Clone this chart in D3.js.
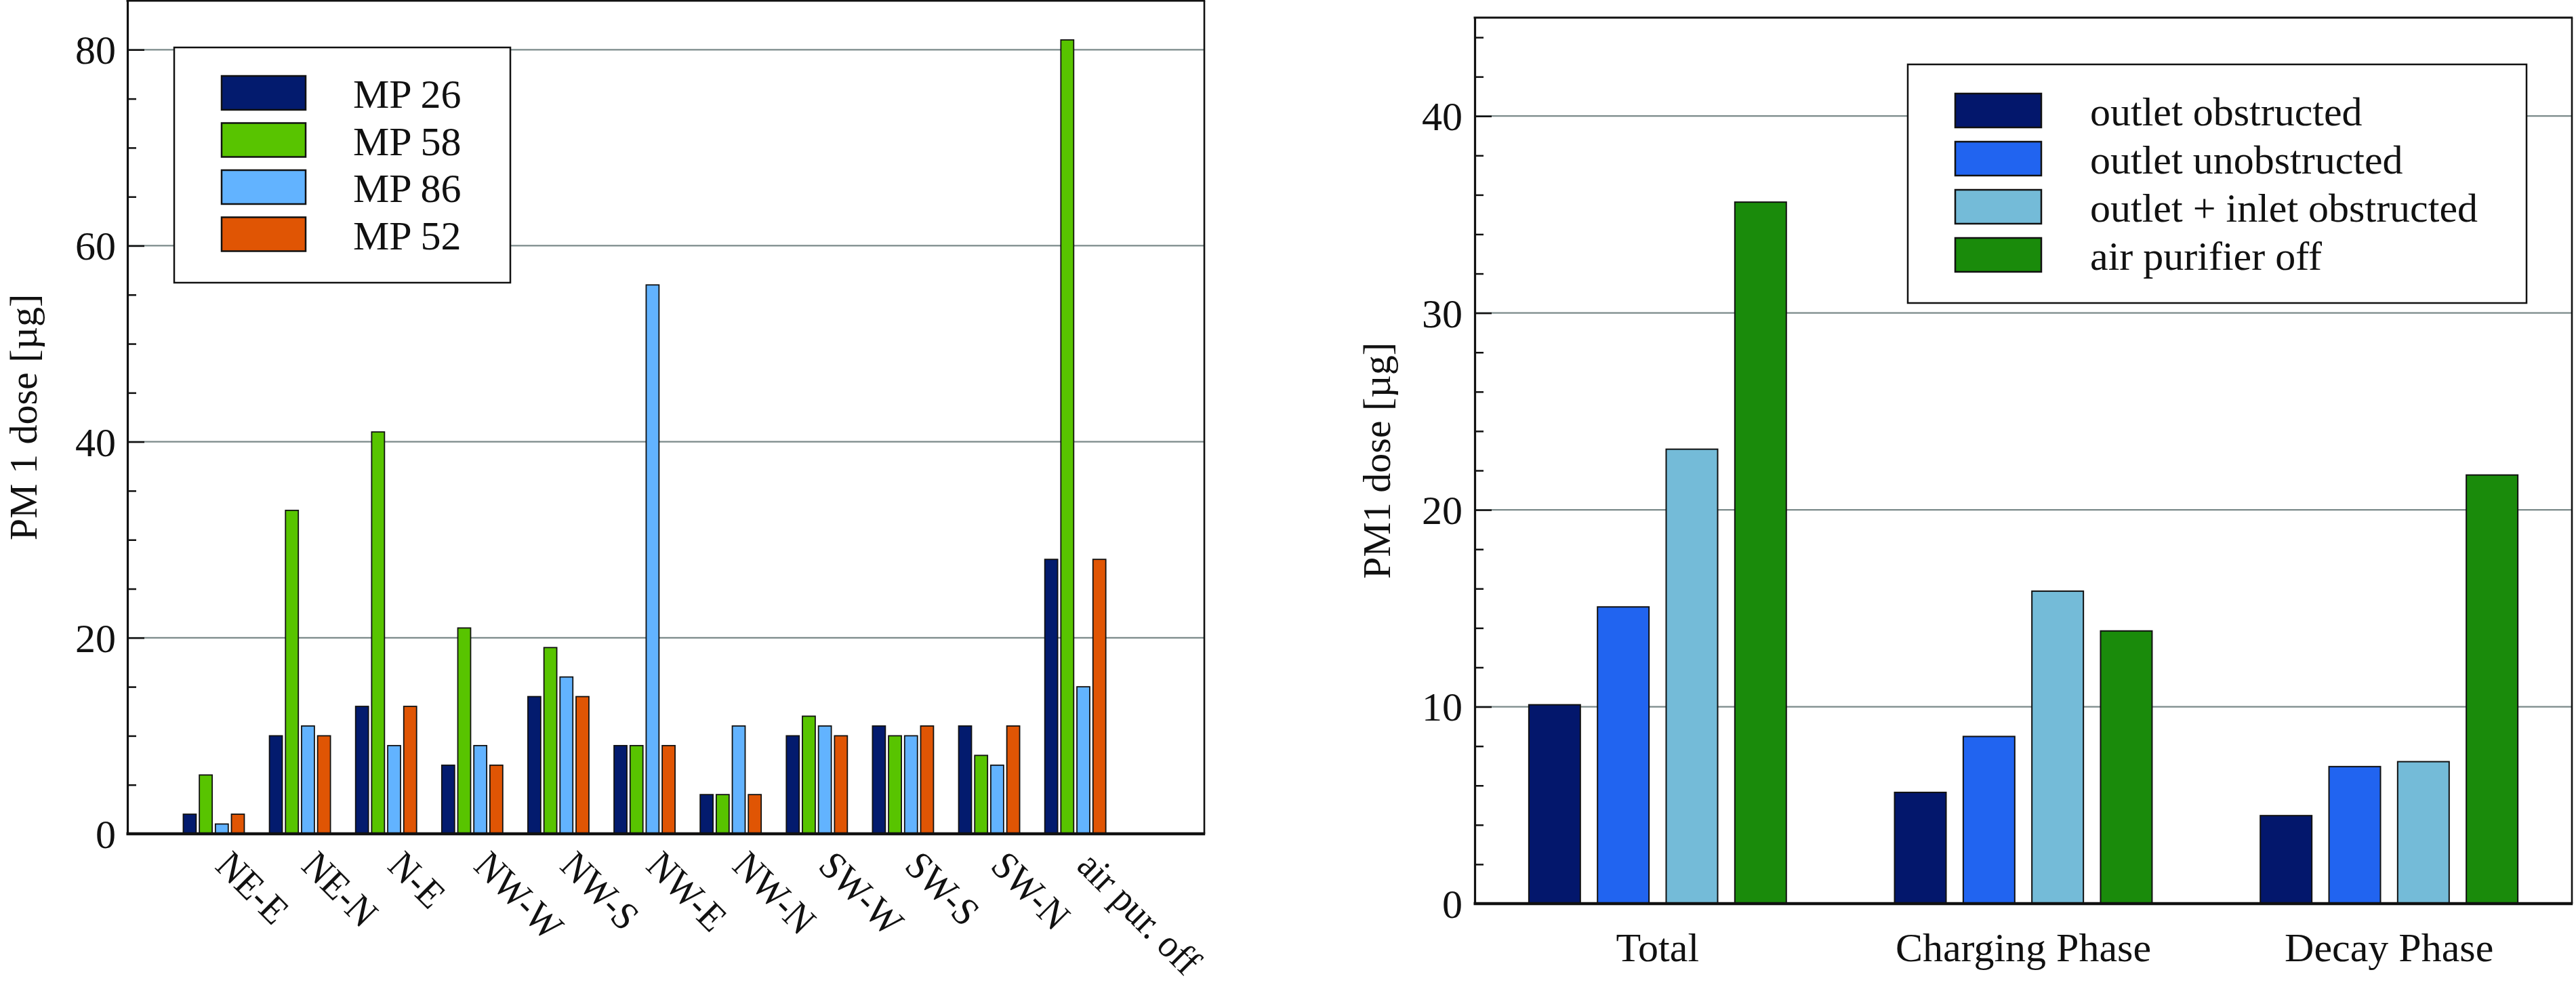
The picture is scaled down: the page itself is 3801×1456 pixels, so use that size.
<!DOCTYPE html>
<html>
<head>
<meta charset="utf-8">
<script src="https://cdn.jsdelivr.net/npm/d3@7"></script>
<style>
  html, body { margin: 0; padding: 0; background: #ffffff; }
  svg { display: block; }
  text { font-family: "Liberation Serif", "Times New Roman", serif; fill: #111; }
</style>
</head>
<body>
<svg id="chart" width="3801" height="1456"></svg>
<script>
// ---------- Data: left panel ----------
const mpCategories = ["NE-E", "NE-N", "N-E", "NW-W", "NW-S", "NW-E", "NW-N", "SW-W", "SW-S", "SW-N", "air pur. off"];
const mpSeries = ["MP 26", "MP 58", "MP 86", "MP 52"];
const mp26 = [2, 10, 13, 7, 14, 9, 4, 10, 11, 11, 28];
const mp58 = [6, 33, 41, 21, 19, 9, 4, 12, 10, 8, 81];
const mp86 = [1, 11, 9, 9, 16, 56, 11, 11, 10, 7, 15];
const mp52 = [2, 10, 13, 7, 14, 9, 4, 10, 11, 11, 28];
const leftYTicks = [0, 20, 40, 60, 80];
const leftYTitle = "PM 1 dose [µg]";

// ---------- Data: right panel ----------
const phaseCategories = ["Total", "Charging Phase", "Decay Phase"];
const phaseSeries = ["outlet obstructed", "outlet unobstructed", "outlet + inlet obstructed", "air purifier off"];
const outletObstructed = [10.1, 5.65, 4.47];
const outletUnobstructed = [15.07, 8.49, 6.96];
const outletInletObstructed = [23.08, 15.87, 7.21];
const airPurifierOff = [35.63, 13.85, 21.77];
const rightYTicks = [0, 10, 20, 30, 40];
const rightYTitle = "PM1 dose [µg]";

const svg = d3.select("#chart");
const FONT = 60;

function drawPanel(cfg) {
  const g = svg.append("g");
  const { x0, x1, yTop, yBottom } = cfg;

  const y = d3.scaleLinear().domain(cfg.yDomain).range([yBottom, yTop]);
  const x = d3.scaleBand().domain(cfg.categories).range([x0, x1])
    .paddingInner(cfg.padInner).paddingOuter(cfg.padOuter).align(cfg.align);
  const xs = d3.scaleBand().domain(cfg.series).range([0, x.bandwidth()]).paddingInner(cfg.barPad);
  const color = d3.scaleOrdinal().domain(cfg.series).range(cfg.colors);

  // gridlines
  g.append("g").selectAll("line").data(cfg.yTicks.filter(d => d > 0)).join("line")
    .attr("x1", x0).attr("x2", x1)
    .attr("y1", d => y(d)).attr("y2", d => y(d))
    .attr("stroke", "#7b8a8a").attr("stroke-width", 2.2);

  // bars
  const rows = cfg.categories.map((c, i) => ({ cat: c, vals: cfg.series.map((s, j) => ({ s, v: cfg.values[j][i] })) }));
  g.append("g").selectAll("g").data(rows).join("g")
    .attr("transform", d => `translate(${x(d.cat)},0)`)
    .selectAll("rect").data(d => d.vals).join("rect")
    .attr("x", d => xs(d.s)).attr("width", xs.bandwidth())
    .attr("y", d => y(d.v)).attr("height", d => y(0) - y(d.v))
    .attr("fill", d => color(d.s))
    .attr("stroke", "#111").attr("stroke-width", cfg.barStroke);

  // minor ticks
  const minorAxis = g.append("g").attr("transform", `translate(${x0},0)`)
    .call(d3.axisLeft(y).tickValues(cfg.minorTicks).tickSize(-13).tickFormat(""));
  minorAxis.select(".domain").remove();
  minorAxis.selectAll("line").attr("stroke", "#111").attr("stroke-width", 2.5);

  // major ticks + labels
  const yAxis = g.append("g").attr("transform", `translate(${x0},0)`)
    .call(d3.axisLeft(y).tickValues(cfg.yTicks).tickSizeInner(-25).tickSizeOuter(0).tickPadding(cfg.labelPad));
  yAxis.select(".domain").attr("stroke", "#111").attr("stroke-width", 3.2);
  yAxis.selectAll(".tick line").attr("stroke", "#111").attr("stroke-width", 2.5);
  yAxis.selectAll("text").attr("font-size", FONT).attr("font-family", "Liberation Serif").attr("fill", "#111").attr("dy", "0.34em");

  // frame: top and right
  g.append("line").attr("x1", x0 - 1.5).attr("x2", x1 + 1.2).attr("y1", yTop).attr("y2", yTop)
    .attr("stroke", "#111").attr("stroke-width", 3);
  g.append("line").attr("x1", x1).attr("x2", x1).attr("y1", yTop).attr("y2", yBottom)
    .attr("stroke", "#111").attr("stroke-width", 2.6);

  // x axis
  const xAxis = g.append("g").attr("transform", `translate(0,${yBottom})`)
    .call(d3.axisBottom(x).tickSize(0).tickSizeOuter(0).tickPadding(0));
  xAxis.select(".domain").attr("stroke", "#111").attr("stroke-width", 4.5)
    .attr("d", `M${x0 - 1.5},0H${x1 + 1.2}`);
  const xt = xAxis.selectAll("text").attr("font-family", "Liberation Serif").attr("fill", "#111");
  if (cfg.rotateLabels) {
    xt.attr("font-size", 58).attr("text-anchor", "start").attr("dy", null).attr("y", null)
      .attr("transform", `translate(0,${cfg.labelOffset}) rotate(45) scale(0.93,1)`);
  } else {
    xt.attr("font-size", FONT).attr("dy", null).attr("y", cfg.labelOffset);
  }

  // y title
  g.append("text").attr("transform", `translate(${cfg.titleX},${(yTop + yBottom) / 2}) rotate(-90)`)
    .attr("text-anchor", "middle").attr("font-size", 58).text(cfg.yTitle);

  // legend
  const L = cfg.legend;
  const lg = g.append("g");
  lg.append("rect").attr("x", L.x).attr("y", L.y).attr("width", L.w).attr("height", L.h)
    .attr("fill", "#fff").attr("stroke", "#111").attr("stroke-width", 2.5);
  const items = lg.selectAll("g.item").data(cfg.series).join("g").attr("class", "item")
    .attr("transform", (d, i) => `translate(0,${L.firstY + i * L.step})`);
  items.append("rect").attr("x", L.sx).attr("y", 0).attr("width", L.sw).attr("height", L.sh)
    .attr("fill", d => color(d)).attr("stroke", "#111").attr("stroke-width", 2.5);
  items.append("text").attr("x", L.tx).attr("y", L.sh / 2 + 22).attr("font-size", FONT).text(d => d);
}

drawPanel({
  x0: 188, x1: 1777, yTop: 1, yBottom: 1230,
  yDomain: [0, 85],
  categories: mpCategories, series: mpSeries,
  values: [mp26, mp58, mp86, mp52],
  colors: ["#031b6e", "#58c400", "#62b3ff", "#e05504"],
  padInner: 0.292, padOuter: 0.896, align: 0.362, barPad: 0.2, barStroke: 1.8,
  yTicks: leftYTicks, minorTicks: [5, 10, 15, 25, 30, 35, 45, 50, 55, 65, 70, 75],
  labelPad: 17, rotateLabels: true, labelOffset: 50,
  titleX: 54, yTitle: leftYTitle,
  legend: { x: 257, y: 70, w: 496, h: 347, firstY: 112, step: 69.5, sx: 327, sw: 124, sh: 50, tx: 521 }
});

drawPanel({
  x0: 2176, x1: 3795, yTop: 26, yBottom: 1333,
  yDomain: [0, 45],
  categories: phaseCategories, series: phaseSeries,
  values: [outletObstructed, outletUnobstructed, outletInletObstructed, airPurifierOff],
  colors: ["#03176c", "#2164f0", "#74bbd8", "#1a8b0b"],
  padInner: 0.296, padOuter: 0.148, align: 0.5, barPad: 0.25, barStroke: 2,
  yTicks: rightYTicks, minorTicks: [2, 4, 6, 8, 12, 14, 16, 18, 22, 24, 26, 28, 32, 34, 36, 38, 42, 44],
  labelPad: 18, rotateLabels: false, labelOffset: 85,
  titleX: 2051, yTitle: rightYTitle,
  legend: { x: 2815, y: 95, w: 913, h: 352, firstY: 138, step: 71, sx: 2885, sw: 127, sh: 50, tx: 3084 }
});
</script>
</body>
</html>
